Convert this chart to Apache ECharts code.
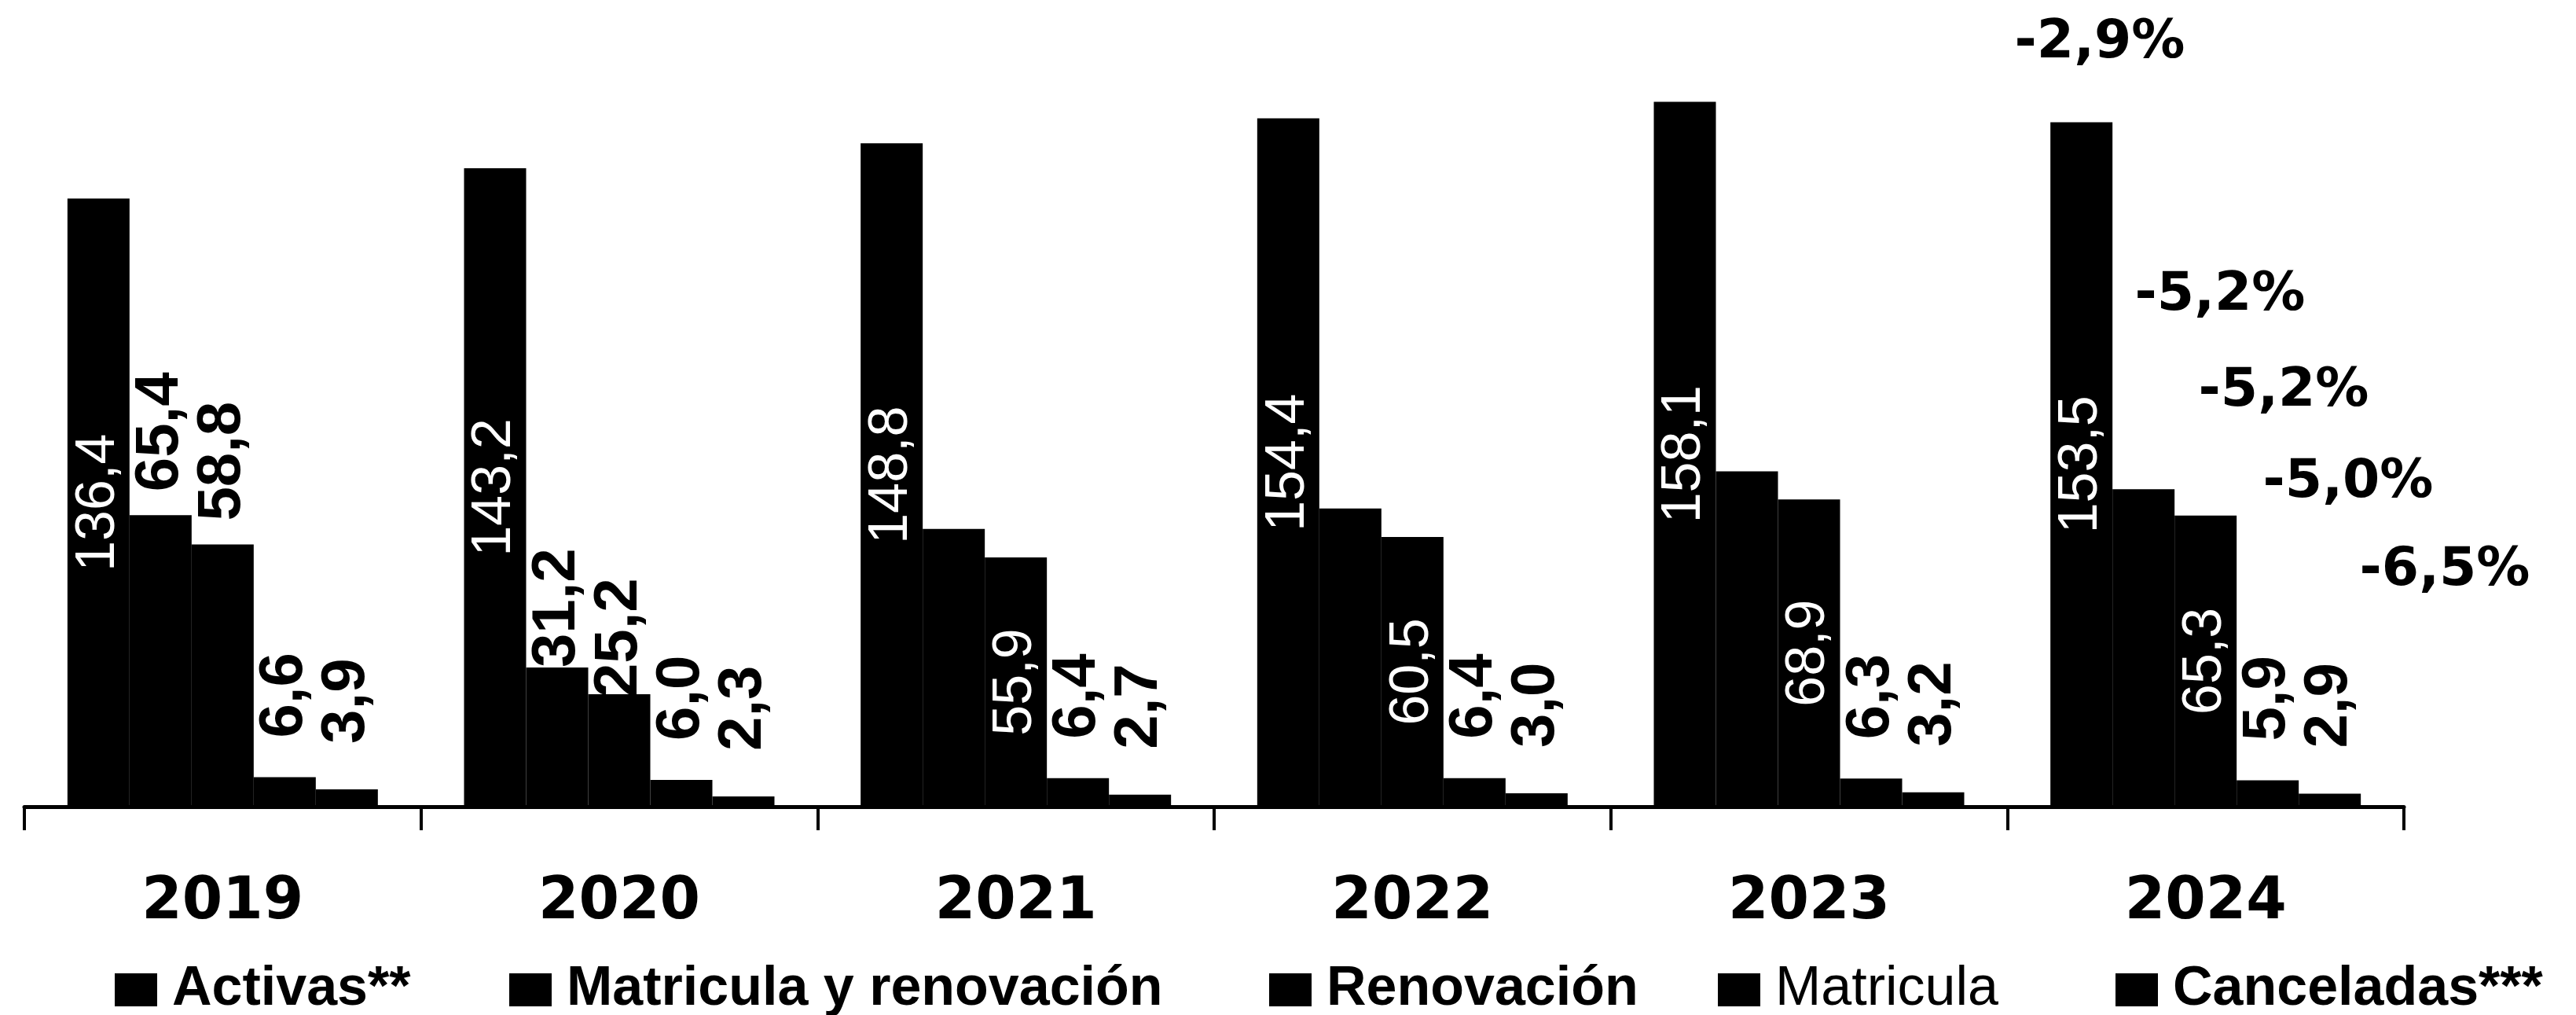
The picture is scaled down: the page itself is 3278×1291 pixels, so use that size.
<!DOCTYPE html>
<html><head><meta charset="utf-8">
<script src="https://cdn.jsdelivr.net/npm/echarts@6/dist/echarts.min.js"></script>
<style>html,body{margin:0;padding:0;background:#fff}#c{width:3278px;height:1291px}</style>
</head><body><div id="c"></div>
<script>
const years = ['2019', '2020', '2021', '2022', '2023', '2024'];
const seriesNames = ['Activas**', 'Matricula y renovación', 'Renovación', 'Matricula', 'Canceladas***'];
const activas = [136.4, 143.2, 148.8, 154.4, 158.1, 153.5];
const matriculaRenovacion = [65.4, 31.2, 62.3, 66.9, 75.2, 71.2];
const renovacion = [58.8, 25.2, 55.9, 60.5, 68.9, 65.3];
const matricula = [6.6, 6.0, 6.4, 6.4, 6.3, 5.9];
const canceladas = [3.9, 2.3, 2.7, 3.0, 3.2, 2.9];
const variacion2024 = ['-2,9%', '-5,2%', '-5,2%', '-5,0%', '-6,5%'];

const fmt = p => p.value.toFixed(1).replace('.', ',');
const sans = 'Liberation Sans';
const whiteInside = { show: true, position: 'inside', rotate: 90, color: '#fff', fontFamily: sans, fontSize: 70, formatter: fmt };
const blackTop = d => ({ show: true, position: 'top', rotate: 90, align: 'left', verticalAlign: 'middle', distance: d, color: '#000', fontFamily: sans, fontWeight: 'bold', fontSize: 78, formatter: fmt });
const hidden = { show: false };

function bar(name, values, labelFor) {
  return {
    name: name, type: 'bar', barWidth: 79, barGap: '0%',
    itemStyle: { color: '#000' },
    data: values.map((v, i) => ({ value: v, label: labelFor(i) }))
  };
}

const chart = echarts.init(document.getElementById('c'), null, { renderer: 'canvas' });

const legendLefts = [141, 643, 1610, 2181, 2687];
const legends = seriesNames.map((n, i) => ({
  data: [n], left: legendLefts[i], top: 1219, itemWidth: 54, itemHeight: 42, icon: 'rect',
  textStyle: { fontFamily: sans, fontWeight: i === 3 ? 'normal' : 'bold', fontSize: 70, lineHeight: 70, color: '#000', padding: [0, 0, 0, 14] }
}));

const pctPos = [[2672, 55], [2825, 376], [2906, 498], [2988, 614], [3111, 726]];

chart.setOption({
  animation: false,
  backgroundColor: '#fff',
  grid: { left: 31, right: 219, top: 62, bottom: 265 },
  legend: legends,
  xAxis: {
    type: 'category', data: years,
    axisLine: { lineStyle: { color: '#000', width: 5 } },
    axisTick: { show: true, length: 30, lineStyle: { color: '#000', width: 4 } },
    axisLabel: { color: '#000', fontFamily: 'DejaVu Sans', fontWeight: 'bold', fontSize: 74, margin: 86 }
  },
  yAxis: { type: 'value', min: 0, max: 170, show: false, splitLine: { show: false } },
  series: [
    bar(seriesNames[0], activas, () => whiteInside),
    bar(seriesNames[1], matriculaRenovacion, i => i === 0 ? blackTop(30) : (i === 1 ? blackTop(0) : hidden)),
    bar(seriesNames[2], renovacion, i => i === 0 ? blackTop(30) : (i === 1 ? blackTop(-4) : whiteInside)),
    bar(seriesNames[3], matricula, () => blackTop(50)),
    bar(seriesNames[4], canceladas, () => blackTop(58))
  ],
  graphic: variacion2024.map((t, i) => ({
    type: 'text', x: pctPos[i][0], y: pctPos[i][1],
    style: { text: t, fill: '#000', font: "bold 68px 'DejaVu Sans'", align: 'center', verticalAlign: 'middle', textAlign: 'center', textVerticalAlign: 'middle' }
  }))
});
</script>
</body></html>
